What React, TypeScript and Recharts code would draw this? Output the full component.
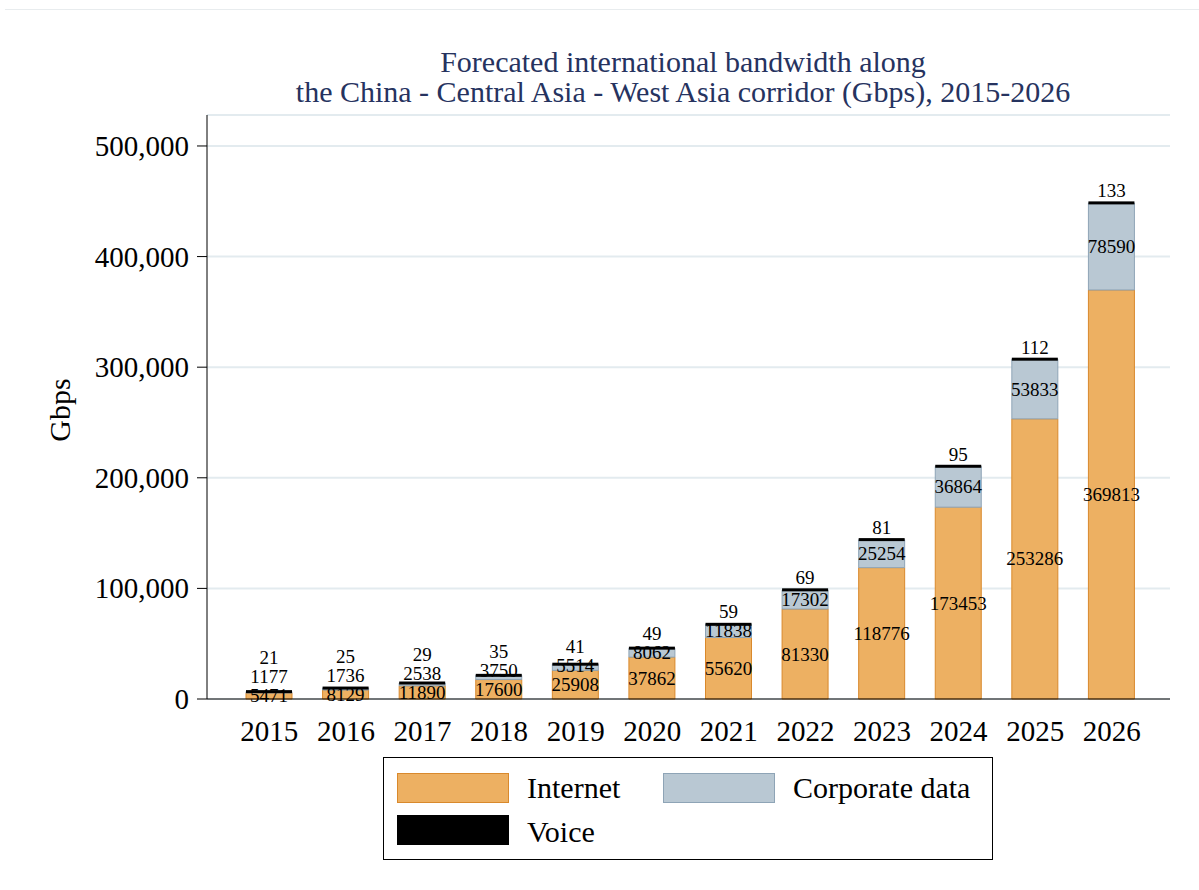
import React from 'react';
import { BarChart, Bar, XAxis, YAxis, CartesianGrid, LabelList } from 'recharts';

const years = ['2015', '2016', '2017', '2018', '2019', '2020', '2021', '2022', '2023', '2024', '2025', '2026'];
const internet = [5471, 8129, 11890, 17600, 25908, 37862, 55620, 81330, 118776, 173453, 253286, 369813];
const corporate = [1177, 1736, 2538, 3750, 5514, 8062, 11838, 17302, 25254, 36864, 53833, 78590];
const voice = [21, 25, 29, 35, 41, 49, 59, 69, 81, 95, 112, 133];
const yTicks = [0, 100000, 200000, 300000, 400000, 500000];

const data = years.map((year, i) => ({ year, internet: internet[i], corporate: corporate[i], voice: voice[i] }));

const FONT = '"Liberation Serif", "Times New Roman", serif';
const ORANGE = '#EDB062';
const ORANGE_EDGE = '#D9892C';
const GREY = '#B9C8D3';
const GREY_EDGE = '#8EA4B6';

// stacked labels: keep them from colliding on the short bars
const labelY = (base: number, ppu: number, i: number) => {
  const iy = base - (internet[i] * ppu) / 2;
  const corpTop = base - (internet[i] + corporate[i]) * ppu;
  const cy = Math.min(corpTop + (corporate[i] * ppu) / 2, iy - 19);
  const vy = Math.min(corpTop - voice[i] * ppu - 12, cy - 19);
  return { iy, cy, vy };
};

const InternetLabel = (props: any) => {
  const { x, y, width, height, index } = props;
  const ppu = height / internet[index];
  const { iy } = labelY(y + height, ppu, index);
  return (
    <text x={x + width / 2} y={iy} textAnchor="middle" dominantBaseline="central" fontFamily={FONT} fontSize={19} fill="#000">
      {internet[index]}
    </text>
  );
};

const CorpLabel = (props: any) => {
  const { x, y, width, height, index } = props;
  const ppu = height / corporate[index];
  const base = y + height + internet[index] * ppu;
  const { cy, vy } = labelY(base, ppu, index);
  return (
    <g>
      <text x={x + width / 2} y={cy} textAnchor="middle" dominantBaseline="central" fontFamily={FONT} fontSize={19} fill="#000">
        {corporate[index]}
      </text>
      <text x={x + width / 2} y={vy} textAnchor="middle" dominantBaseline="central" fontFamily={FONT} fontSize={19} fill="#000">
        {voice[index]}
      </text>
    </g>
  );
};

const VoiceShape = (props: any) => {
  const { x, y, width } = props;
  return <rect x={x} y={y - 1.5} width={width} height={3} fill="#000" />;
};

const XTick = (props: any) => {
  const { x, y, payload } = props;
  return (
    <text x={x} y={y + 40} textAnchor="middle" fontFamily={FONT} fontSize={29} fill="#000">
      {payload.value}
    </text>
  );
};

const YTick = (props: any) => {
  const { x, y, payload } = props;
  return (
    <text x={x} y={y} textAnchor="end" dominantBaseline="central" fontFamily={FONT} fontSize={29} fill="#000">
      {payload.value.toLocaleString('en-US')}
    </text>
  );
};

const Swatch = ({ color, edge }: { color: string; edge: string }) => (
  <div style={{ width: 110, height: 28, background: color, border: `1px solid ${edge}` }} />
);

export default function App() {
  return (
    <div style={{ position: 'absolute', left: 0, top: 0, width: 1199, height: 890, background: '#fff', fontFamily: FONT }}>
      <div style={{ position: 'absolute', left: 5, top: 9, width: 1194, height: 1, background: '#E8ECEE' }} />
      <div style={{ position: 'absolute', left: 0, top: 47, width: 1366, textAlign: 'center', color: '#26335F', fontSize: 30, lineHeight: '30px' }}>
        Forecated international bandwidth along
        <br />
        the China - Central Asia - West Asia corridor (Gbps), 2015-2026
      </div>
      <div style={{ position: 'absolute', left: 60, top: 410, transform: 'translate(-50%, -50%) rotate(-90deg)', fontSize: 30, whiteSpace: 'nowrap' }}>
        Gbps
      </div>
      <div style={{ position: 'absolute', left: 0, top: 0 }}>
        <BarChart width={1199} height={890} data={data} margin={{ top: 115, right: 29, bottom: 141, left: 0 }} barSize={46}>
          <CartesianGrid horizontal vertical={false} stroke="#E3EBEF" strokeWidth={2} />
          <XAxis
            dataKey="year"
            stroke="#000"
            tickLine={false}
            tickSize={0}
            height={50}
            padding={{ left: 24, right: 20 }}
            tick={<XTick />}
          />
          <YAxis
            width={207}
            domain={[0, 528000]}
            ticks={yTicks}
            stroke="#000"
            tickSize={10}
            tickMargin={8}
            tick={<YTick />}
          />
          <Bar dataKey="internet" stackId="a" fill={ORANGE} stroke={ORANGE_EDGE} strokeWidth={1} isAnimationActive={false}>
            <LabelList dataKey="internet" content={<InternetLabel />} />
          </Bar>
          <Bar dataKey="corporate" stackId="a" fill={GREY} stroke={GREY_EDGE} strokeWidth={1} isAnimationActive={false}>
            <LabelList dataKey="corporate" content={<CorpLabel />} />
          </Bar>
          <Bar dataKey="voice" stackId="a" fill="#000" shape={<VoiceShape />} isAnimationActive={false} />
        </BarChart>
      </div>
      <div style={{ position: 'absolute', left: 383, top: 757, width: 608, height: 101, border: '1px solid #000', fontSize: 30 }}>
        <div style={{ position: 'absolute', left: 13, top: 15 }}><Swatch color={ORANGE} edge={ORANGE_EDGE} /></div>
        <div style={{ position: 'absolute', left: 143, top: 13, lineHeight: '34px' }}>Internet</div>
        <div style={{ position: 'absolute', left: 279, top: 15 }}><Swatch color={GREY} edge={GREY_EDGE} /></div>
        <div style={{ position: 'absolute', left: 409, top: 13, lineHeight: '34px' }}>Corporate data</div>
        <div style={{ position: 'absolute', left: 13, top: 57 }}><Swatch color="#000" edge="#000" /></div>
        <div style={{ position: 'absolute', left: 143, top: 57, lineHeight: '34px' }}>Voice</div>
      </div>
    </div>
  );
}
